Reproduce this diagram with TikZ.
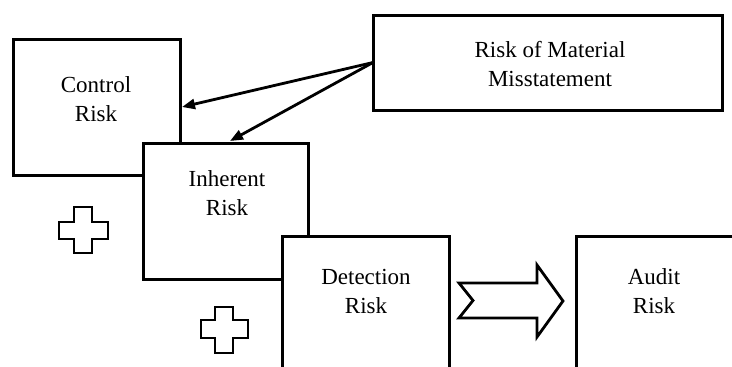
\documentclass[tikz,border=0pt]{standalone}
\usepackage{fontspec}
\setmainfont{Liberation Serif}
\usetikzlibrary{arrows.meta}
\begin{document}
\begin{tikzpicture}[x=1pt,y=-1pt,
  riskbox/.style={draw=black,line width=3pt,fill=white,inner sep=0pt,outer sep=0pt,rectangle},
  risktext/.style={align=center,font=\fontsize{23}{29}\selectfont,inner sep=0pt},
  link/.style={line width=2.8pt,-{Triangle[length=13pt,width=10pt]}},
  plusshape/.style={draw=black,line width=2.8pt,fill=white,line join=miter},
  blockarrow/.style={draw=black,line width=2.8pt,fill=white,line join=miter}]
\clip (0,0) rectangle (732,367);
\fill[white] (0,0) rectangle (732,367);
% boxes (later ones cover earlier ones)
\node[riskbox,minimum width=167pt,minimum height=136pt] (ctl) at (96.5,107) {};
\node[riskbox,minimum width=165pt,minimum height=136pt] (inh) at (225.5,211) {};
\node[riskbox,minimum width=167pt,minimum height=180pt] (det) at (365.5,326) {};
\node[riskbox,minimum width=200pt,minimum height=180pt] (aud) at (676,326) {};
\node[riskbox,minimum width=349pt,minimum height=95pt] (rmm) at (547.5,62.5) {};
% texts
\node[risktext] (ctlt) at (96,99) {Control\\Risk};
\node[risktext] (inht) at (227,193) {Inherent\\Risk};
\node[risktext] (dett) at (366,291.5) {Detection\\Risk};
\node[risktext] (audt) at (654,291.5) {Audit\\Risk};
\node[risktext] (rmmt) at (550,64.5) {Risk of Material\\Misstatement};
% connectors
\draw[link] (rmm.west) -- ([xshift=2pt]ctl.east);
\draw[link] (rmm.west) -- ([xshift=4.5pt,yshift=2pt]inh.north);
% plus signs
\draw[plusshape] (74,207) -- (92,207) -- (92,222) -- (108,222) -- (108,239) -- (92,239) -- (92,253) -- (74,253) -- (74,239) -- (59,239) -- (59,222) -- (74,222) -- cycle;
\draw[plusshape] (215,307) -- (233,307) -- (233,320) -- (248,320) -- (248,338) -- (233,338) -- (233,353) -- (215,353) -- (215,338) -- (201,338) -- (201,320) -- (215,320) -- cycle;
% block arrow
\draw[blockarrow] (459,283) -- (537,283) -- (537,265) -- (563,301) -- (537,337) -- (537,318) -- (459,318) -- (473,300.5) -- cycle;
\end{tikzpicture}
\end{document}
